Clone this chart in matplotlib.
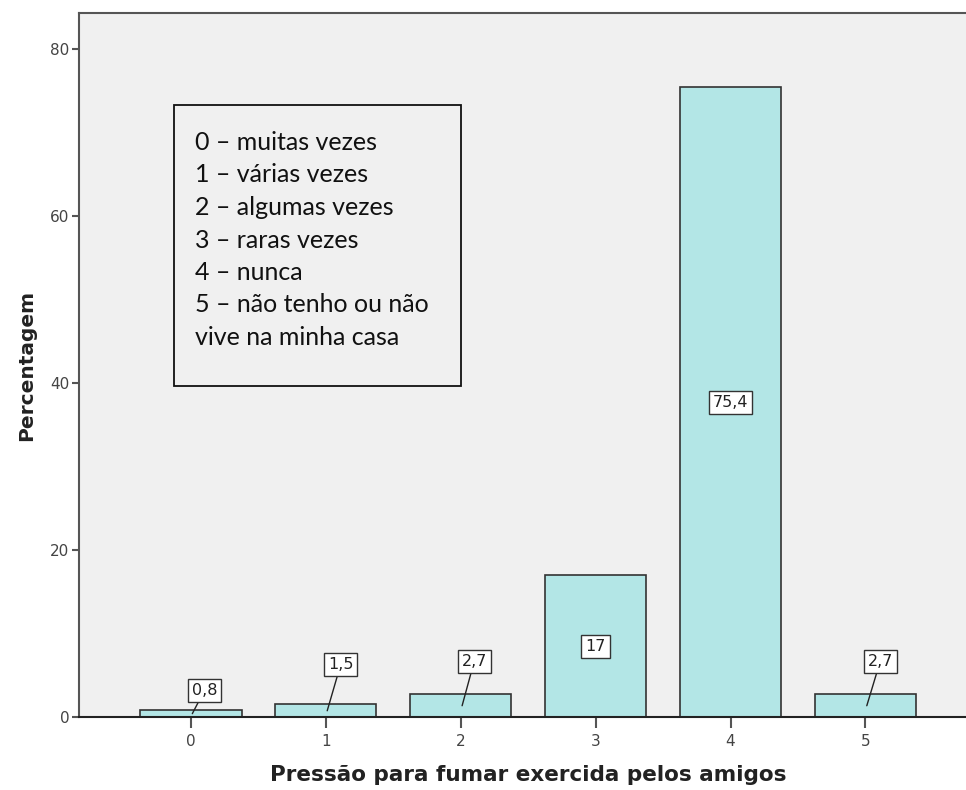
import matplotlib

matplotlib.use("Agg")
import matplotlib.pyplot as plt
from matplotlib.patches import Rectangle

categories = ["0", "1", "2", "3", "4", "5"]
percentages = [0.8, 1.5, 2.7, 17.0, 75.4, 2.7]
value_labels = ["0,8", "1,5", "2,7", "17", "75,4", "2,7"]
legend_lines = [
    "0 – muitas vezes",
    "1 – várias vezes",
    "2 – algumas vezes",
    "3 – raras vezes",
    "4 – nunca",
    "5 – não tenho ou não",
    "vive na minha casa",
]

# label layout: (dx, dy above bar top) for small bars; None = centred inside
label_offsets = [(0.10, 2.4), (0.11, 4.8), (0.10, 4.0), None, None, (0.11, 4.0)]

BAR_COLOR = "#b3e6e6"
EDGE = "#333333"
SPINE = "#555555"

fig = plt.figure(figsize=(9.66, 7.90), dpi=100)
ax = fig.add_axes([0.0818, 0.0924, 0.93, 0.891])
ax.set_facecolor("#f0f0f0")

x = list(range(len(categories)))
ax.bar(x, percentages, width=0.75, color=BAR_COLOR, edgecolor=EDGE, linewidth=1.2, zorder=2)

box = dict(boxstyle="square,pad=0.25", facecolor="white", edgecolor=EDGE, linewidth=1.0)
for i, (val, lab, off) in enumerate(zip(percentages, value_labels, label_offsets)):
    if off is None:
        ax.text(i, val / 2, lab, ha="center", va="center", fontsize=11.5,
                color="#222222", bbox=box, zorder=4)
    else:
        dx, dy = off
        ax.annotate(lab, xy=(i + 0.01, val / 2), xytext=(i + dx, val + dy),
                    ha="center", va="center", fontsize=11.5, color="#222222",
                    bbox=box, zorder=4,
                    arrowprops=dict(arrowstyle="-", color="#222222", lw=1.0,
                                    shrinkA=0, shrinkB=0))

ax.set_xlim(-0.83, 5.83)
ax.set_ylim(0, 84.3)
ax.set_xticks(x)
ax.set_xticklabels(categories)
ax.set_yticks([0, 20, 40, 60, 80])
ax.tick_params(axis="x", length=8, width=1.5, color=SPINE, labelsize=11, labelcolor="#444444", pad=4)
ax.tick_params(axis="y", length=5, width=1.5, color=SPINE, labelsize=11, labelcolor="#444444", pad=2)
for side in ["left", "bottom", "top", "right"]:
    ax.spines[side].set_color(SPINE)
    ax.spines[side].set_linewidth(1.5)
ax.spines["bottom"].set_color("#222222")

ax.set_xlabel("Pressão para fumar exercida pelos amigos", fontsize=15.5,
              fontweight="bold", color="#222222", labelpad=12)
ax.set_ylabel("Percentagem", fontsize=14.5, fontweight="bold", color="#222222", labelpad=10)

# legend-like text box
rect = Rectangle((174 / 966, 1 - 386 / 790), (461 - 174) / 966, (386 - 105) / 790,
                 transform=fig.transFigure, facecolor="none", edgecolor="#111111",
                 linewidth=1.3, zorder=5)
fig.add_artist(rect)
fig.text(195 / 966, 1 - 131 / 790, "\n".join(legend_lines), ha="left", va="top",
         fontsize=18, family=["Lato", "DejaVu Sans"], color="#111111", linespacing=1.5)

fig.savefig("out.png", dpi=100, facecolor="white")
